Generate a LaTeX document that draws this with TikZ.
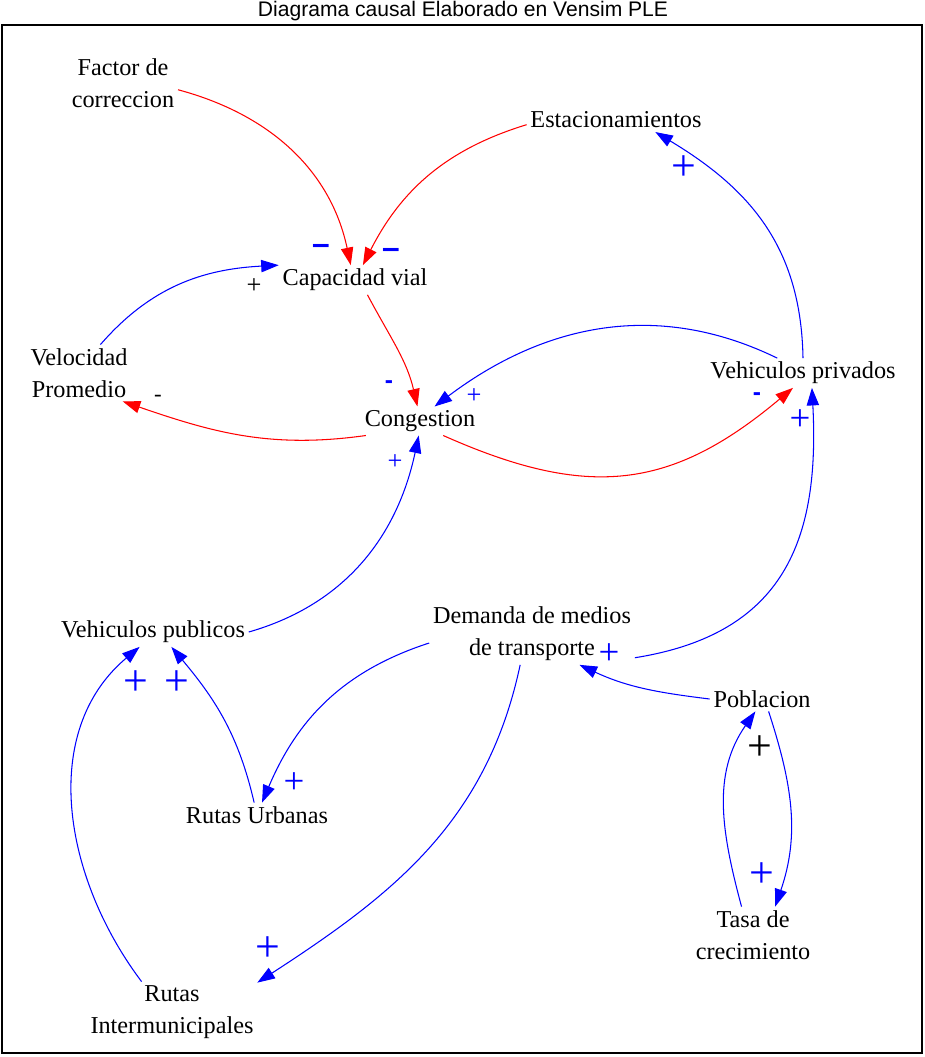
\documentclass[tikz,border=0pt]{standalone}
\usepackage{fontspec}
\setmainfont{Liberation Serif}
\setsansfont{Liberation Sans}
\usetikzlibrary{arrows.meta}

\begin{document}
\begin{tikzpicture}[x=0.02cm,y=0.02cm,
	var/.style={font=\fontsize{13.8}{18.2}\selectfont, align=center, inner sep=2pt},
	lnk/.style={line width=0.6pt, -{Triangle[length=10pt,width=7pt]}},
	lred/.style={lnk, red},
	lblue/.style={lnk, blue},
	plusbig/.style={font=\fontsize{25}{25}\selectfont, inner sep=0pt, blue},
	plusmid/.style={font=\fontsize{21}{21}\selectfont, inner sep=0pt, blue},
	plussmall/.style={font=\fontsize{15}{15}\selectfont, inner sep=0pt, blue},
	negbig/.style={font=\sffamily\bfseries\fontsize{18}{18}\selectfont, inner sep=0pt, blue},
	negsmall/.style={font=\sffamily\bfseries\fontsize{14}{14}\selectfont, inner sep=0pt, blue},
	]
	\useasboundingbox (0,0) rectangle (925,-1057);
	\node[font=\sffamily\fontsize{12}{14}\selectfont] (title) at (463,-11) {Diagrama causal Elaborado en Vensim PLE};
	\draw[line width=0.6pt] (2,-25) rectangle (922,-1053);
	
	\node[var] (fc) at (123,-83) {Factor de\\correccion};
	\node[var] (est) at (616,-120) {Estacionamientos};
	\node[var] (cv) at (355,-280) {Capacidad vial};
	\node[var] (vp) at (79,-373) {Velocidad\\Promedio};
	\node[var] (cong) at (420,-421) {Congestion};
	\node[var] (vpriv) at (803,-373) {Vehiculos privados};
	\node[var] (vpub) at (153,-632) {Vehiculos publicos};
	\node[var] (dem) at (532,-634) {Demanda de medios\\de transporte};
	\node[var] (pob) at (762,-699) {Poblacion};
	\node[var] (ru) at (257,-815) {Rutas Urbanas};
	\node[var] (tasa) at (753,-935) {Tasa de\\crecimiento};
	\node[var] (ri) at (172,-1012) {Rutas\\Intermunicipales};
	
	\draw[lred] (fc.-7) to[out=-15,in=102] (cv.106);
	\draw[lred] (est.183) to[out=197,in=63] (cv.62);
	\draw[lblue] (vp.53) to[out=49,in=183] (cv.169);
	\draw[lred] (cv.-50) to[out=-62,in=103] (cong.100);
	\draw[lred] (cong.195) to[out=188,in=-19] (vp.-33);
	\draw[lblue] (vpriv.150) to[out=154,in=37] (cong.45);
	\draw[lred] (cong.-32) to[out=-24,in=220,looseness=1.15] (vpriv.236);
	\draw[lblue] (vpriv.north) to[out=91,in=-31,looseness=1.05] (est.-17);
	\draw[lblue] (vpub.east) to[out=16,in=-102] (cong.-95);
	\draw[lblue] (dem.-13) to[out=9,in=-87,looseness=1.2] (vpriv.-59);
	\draw[lblue] (pob.west) to[out=173,in=-25] (dem.-33);
	\draw[lblue] (dem.185) to[out=198,in=67] (ru.68);
	\draw[lblue] (dem.249) to[out=258,in=33] (ri.19);
	\draw[lblue] (ru.103) to[out=103,in=-50] (vpub.-39);
	\draw[lblue] (ri.135) to[out=127,in=220] (vpub.228);
	\draw[lblue] (pob.-62) to[out=-72,in=71] (tasa.52);
	\draw[lblue] (tasa.112) to[out=105,in=235] (pob.242);
	
	\node[negbig] (n1) at (321,-249) {\textendash};
	\node[negbig] (n2) at (391,-253) {\textendash};
	\node[plussmall, black] (s3) at (254,-286) {+};
	\node[negsmall] (n4) at (389,-385) {-};
	\node[font=\fontsize{13}{13}\selectfont, inner sep=0pt] (n5) at (158,-398) {-};
	\node[plussmall] (s6) at (474,-396) {+};
	\node[negsmall] (n7) at (757,-397) {-};
	\node[plusbig] (s8) at (684,-168) {+};
	\node[plussmall] (s9) at (395,-462) {+};
	\node[plusmid] (s10) at (800,-420) {+};
	\node[plusmid] (s11) at (609,-654) {+};
	\node[plusmid] (s12) at (294,-783) {+};
	\node[plusbig] (s13) at (268,-949) {+};
	\node[plusbig] (s14) at (177,-683) {+};
	\node[plusbig] (s15) at (136,-683) {+};
	\node[plusbig] (s16) at (762,-875) {+};
	\node[plusbig, black] (s17) at (760,-748) {+};
\end{tikzpicture}
\end{document}
